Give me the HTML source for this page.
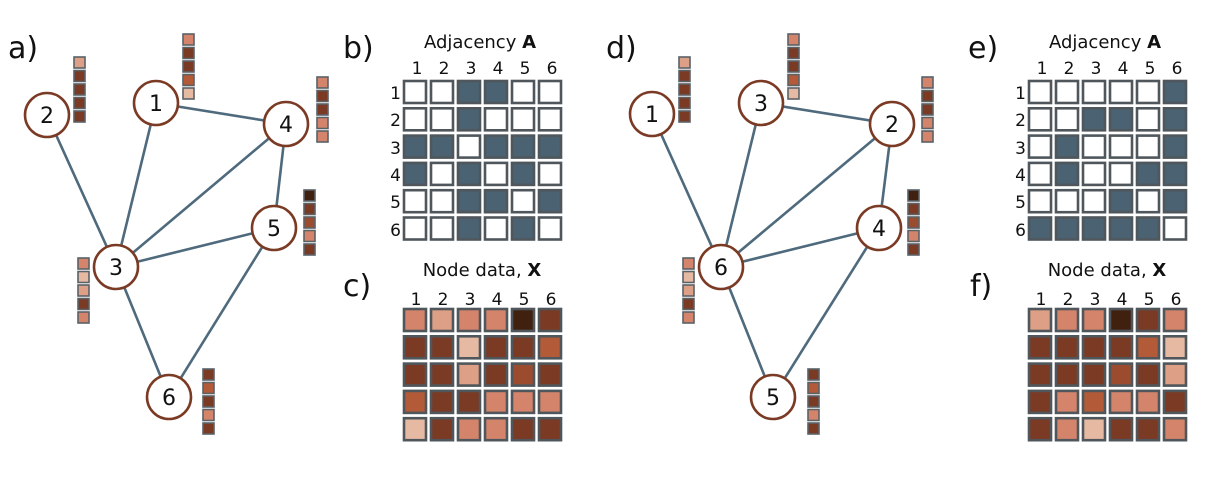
<!DOCTYPE html>
<html><head><meta charset="utf-8"><style>
html,body{margin:0;padding:0;background:#fff;}
svg{display:block;}
text{font-family:"DejaVu Sans","Liberation Sans",sans-serif;fill:#111;}
.e{stroke:#4e6a7c;stroke-width:2.6;}
.n{fill:#fff;stroke:#7a3a24;stroke-width:2.6;}
.nl{font-size:22px;text-anchor:middle;}
.lab{font-size:30px;}
.t{font-size:18px;text-anchor:middle;}
.cl{font-size:17px;text-anchor:middle;}
.rl{font-size:17px;text-anchor:end;}
.a rect{stroke:#4f575c;stroke-width:2.6;}
.b rect{stroke:#5a6268;stroke-width:1.6;}
.C{fill:#d4846a}.M{fill:#dd9f86}.L{fill:#e6b9a3}.D{fill:#7a3a24}.O{fill:#b35a38}.R{fill:#9b4c2e}.K{fill:#40200f}
.W{fill:#fff}.F{fill:#4a6272}
</style></head><body>
<svg width="1221" height="489" viewBox="0 0 1221 489" xmlns="http://www.w3.org/2000/svg">
<!-- Panel a -->
<text class="lab" x="8" y="58">a)</text>
<g>
<line class="e" x1="47" y1="115" x2="116" y2="267"/>
<line class="e" x1="156" y1="103" x2="116" y2="267"/>
<line class="e" x1="156" y1="103" x2="286" y2="124"/>
<line class="e" x1="286" y1="124" x2="116" y2="267"/>
<line class="e" x1="286" y1="124" x2="274" y2="228"/>
<line class="e" x1="274" y1="228" x2="116" y2="267"/>
<line class="e" x1="274" y1="228" x2="169" y2="397"/>
<line class="e" x1="116" y1="267" x2="169" y2="397"/>
<circle class="n" cx="47" cy="115" r="22"/><text class="nl" x="47" y="123">2</text>
<circle class="n" cx="156" cy="103" r="22"/><text class="nl" x="156" y="111">1</text>
<circle class="n" cx="286" cy="124" r="22"/><text class="nl" x="286" y="132">4</text>
<circle class="n" cx="274" cy="228" r="22"/><text class="nl" x="274" y="236">5</text>
<circle class="n" cx="116" cy="267" r="22"/><text class="nl" x="116" y="275">3</text>
<circle class="n" cx="169" cy="397" r="22"/><text class="nl" x="169" y="405">6</text>
</g>
<g class="b">
<!-- node2 bars M D D D D -->
<rect class="M" x="74" y="57" width="11" height="11"/><rect class="D" x="74" y="70.5" width="11" height="11"/><rect class="D" x="74" y="84" width="11" height="11"/><rect class="D" x="74" y="97.5" width="11" height="11"/><rect class="D" x="74" y="111" width="11" height="11"/>
<!-- node1 C D D O L -->
<rect class="C" x="183" y="34" width="11" height="11"/><rect class="D" x="183" y="47.5" width="11" height="11"/><rect class="D" x="183" y="61" width="11" height="11"/><rect class="O" x="183" y="74.5" width="11" height="11"/><rect class="L" x="183" y="88" width="11" height="11"/>
<!-- node4 C D D C C -->
<rect class="C" x="317" y="77" width="11" height="11"/><rect class="D" x="317" y="90.5" width="11" height="11"/><rect class="D" x="317" y="104" width="11" height="11"/><rect class="C" x="317" y="117.5" width="11" height="11"/><rect class="C" x="317" y="131" width="11" height="11"/>
<!-- node5 K D R C D -->
<rect class="K" x="304" y="190" width="11" height="11"/><rect class="D" x="304" y="203.5" width="11" height="11"/><rect class="R" x="304" y="217" width="11" height="11"/><rect class="C" x="304" y="230.5" width="11" height="11"/><rect class="D" x="304" y="244" width="11" height="11"/>
<!-- node3 C L M D C -->
<rect class="C" x="78" y="258" width="11" height="11"/><rect class="L" x="78" y="271.5" width="11" height="11"/><rect class="M" x="78" y="285" width="11" height="11"/><rect class="D" x="78" y="298.5" width="11" height="11"/><rect class="C" x="78" y="312" width="11" height="11"/>
<!-- node6 D O D C D -->
<rect class="D" x="203" y="369" width="11" height="11"/><rect class="O" x="203" y="382.5" width="11" height="11"/><rect class="D" x="203" y="396" width="11" height="11"/><rect class="C" x="203" y="409.5" width="11" height="11"/><rect class="D" x="203" y="423" width="11" height="11"/>
</g>

<!-- Panel b -->
<text class="lab" x="343" y="58">b)</text>
<text class="t" x="480" y="48">Adjacency <tspan font-weight="bold">A</tspan></text>
<g>
<text class="cl" x="417" y="74">1</text><text class="cl" x="444" y="74">2</text><text class="cl" x="471" y="74">3</text><text class="cl" x="498" y="74">4</text><text class="cl" x="525" y="74">5</text><text class="cl" x="552" y="74">6</text>
<text class="rl" x="401" y="99">1</text><text class="rl" x="401" y="126">2</text><text class="rl" x="401" y="154">3</text><text class="rl" x="401" y="181">4</text><text class="rl" x="401" y="208">5</text><text class="rl" x="401" y="236">6</text>
</g>
<g class="a">
<rect class="W" x="404" y="81" width="22" height="22"/><rect class="W" x="431" y="81" width="22" height="22"/><rect class="F" x="458" y="81" width="22" height="22"/><rect class="F" x="485" y="81" width="22" height="22"/><rect class="W" x="512" y="81" width="22" height="22"/><rect class="W" x="539" y="81" width="22" height="22"/>
<rect class="W" x="404" y="108.3" width="22" height="22"/><rect class="W" x="431" y="108.3" width="22" height="22"/><rect class="F" x="458" y="108.3" width="22" height="22"/><rect class="W" x="485" y="108.3" width="22" height="22"/><rect class="W" x="512" y="108.3" width="22" height="22"/><rect class="W" x="539" y="108.3" width="22" height="22"/>
<rect class="F" x="404" y="135.6" width="22" height="22"/><rect class="F" x="431" y="135.6" width="22" height="22"/><rect class="W" x="458" y="135.6" width="22" height="22"/><rect class="F" x="485" y="135.6" width="22" height="22"/><rect class="F" x="512" y="135.6" width="22" height="22"/><rect class="F" x="539" y="135.6" width="22" height="22"/>
<rect class="F" x="404" y="162.9" width="22" height="22"/><rect class="W" x="431" y="162.9" width="22" height="22"/><rect class="F" x="458" y="162.9" width="22" height="22"/><rect class="W" x="485" y="162.9" width="22" height="22"/><rect class="F" x="512" y="162.9" width="22" height="22"/><rect class="W" x="539" y="162.9" width="22" height="22"/>
<rect class="W" x="404" y="190.2" width="22" height="22"/><rect class="W" x="431" y="190.2" width="22" height="22"/><rect class="F" x="458" y="190.2" width="22" height="22"/><rect class="F" x="485" y="190.2" width="22" height="22"/><rect class="W" x="512" y="190.2" width="22" height="22"/><rect class="F" x="539" y="190.2" width="22" height="22"/>
<rect class="W" x="404" y="217.5" width="22" height="22"/><rect class="W" x="431" y="217.5" width="22" height="22"/><rect class="F" x="458" y="217.5" width="22" height="22"/><rect class="W" x="485" y="217.5" width="22" height="22"/><rect class="F" x="512" y="217.5" width="22" height="22"/><rect class="W" x="539" y="217.5" width="22" height="22"/>
</g>

<!-- Panel c -->
<text class="lab" x="343" y="296">c)</text>
<text class="t" x="482" y="276">Node data, <tspan font-weight="bold">X</tspan></text>
<g>
<text class="cl" x="416" y="305">1</text><text class="cl" x="443" y="305">2</text><text class="cl" x="470" y="305">3</text><text class="cl" x="497" y="305">4</text><text class="cl" x="524" y="305">5</text><text class="cl" x="551" y="305">6</text>
</g>
<g class="a">
<rect class="C" x="404" y="309" width="22" height="22"/><rect class="M" x="431" y="309" width="22" height="22"/><rect class="C" x="458" y="309" width="22" height="22"/><rect class="C" x="485" y="309" width="22" height="22"/><rect class="K" x="512" y="309" width="22" height="22"/><rect class="D" x="539" y="309" width="22" height="22"/>
<rect class="D" x="404" y="336.3" width="22" height="22"/><rect class="D" x="431" y="336.3" width="22" height="22"/><rect class="L" x="458" y="336.3" width="22" height="22"/><rect class="D" x="485" y="336.3" width="22" height="22"/><rect class="D" x="512" y="336.3" width="22" height="22"/><rect class="O" x="539" y="336.3" width="22" height="22"/>
<rect class="D" x="404" y="363.6" width="22" height="22"/><rect class="D" x="431" y="363.6" width="22" height="22"/><rect class="M" x="458" y="363.6" width="22" height="22"/><rect class="D" x="485" y="363.6" width="22" height="22"/><rect class="R" x="512" y="363.6" width="22" height="22"/><rect class="D" x="539" y="363.6" width="22" height="22"/>
<rect class="O" x="404" y="390.9" width="22" height="22"/><rect class="D" x="431" y="390.9" width="22" height="22"/><rect class="D" x="458" y="390.9" width="22" height="22"/><rect class="C" x="485" y="390.9" width="22" height="22"/><rect class="C" x="512" y="390.9" width="22" height="22"/><rect class="C" x="539" y="390.9" width="22" height="22"/>
<rect class="L" x="404" y="418.2" width="22" height="22"/><rect class="D" x="431" y="418.2" width="22" height="22"/><rect class="C" x="458" y="418.2" width="22" height="22"/><rect class="C" x="485" y="418.2" width="22" height="22"/><rect class="D" x="512" y="418.2" width="22" height="22"/><rect class="D" x="539" y="418.2" width="22" height="22"/>
</g>

<!-- Panel d -->
<text class="lab" x="606" y="58">d)</text>
<g>
<line class="e" x1="652" y1="114" x2="721" y2="267"/>
<line class="e" x1="761" y1="103" x2="721" y2="267"/>
<line class="e" x1="761" y1="103" x2="892" y2="124"/>
<line class="e" x1="892" y1="124" x2="721" y2="267"/>
<line class="e" x1="892" y1="124" x2="879" y2="228"/>
<line class="e" x1="879" y1="228" x2="721" y2="267"/>
<line class="e" x1="879" y1="228" x2="773" y2="397"/>
<line class="e" x1="721" y1="267" x2="773" y2="397"/>
<circle class="n" cx="652" cy="114" r="22"/><text class="nl" x="652" y="122">1</text>
<circle class="n" cx="761" cy="103" r="22"/><text class="nl" x="761" y="111">3</text>
<circle class="n" cx="892" cy="124" r="22"/><text class="nl" x="892" y="132">2</text>
<circle class="n" cx="879" cy="228" r="22"/><text class="nl" x="879" y="236">4</text>
<circle class="n" cx="721" cy="267" r="22"/><text class="nl" x="721" y="275">6</text>
<circle class="n" cx="773" cy="397" r="22"/><text class="nl" x="773" y="405">5</text>
</g>
<g class="b">
<!-- d1 M D D D D -->
<rect class="M" x="679" y="57" width="11" height="11"/><rect class="D" x="679" y="70.5" width="11" height="11"/><rect class="D" x="679" y="84" width="11" height="11"/><rect class="D" x="679" y="97.5" width="11" height="11"/><rect class="D" x="679" y="111" width="11" height="11"/>
<!-- d3 C D D O L -->
<rect class="C" x="788" y="34" width="11" height="11"/><rect class="D" x="788" y="47.5" width="11" height="11"/><rect class="D" x="788" y="61" width="11" height="11"/><rect class="O" x="788" y="74.5" width="11" height="11"/><rect class="L" x="788" y="88" width="11" height="11"/>
<!-- d2 C D D C C -->
<rect class="C" x="922" y="77" width="11" height="11"/><rect class="D" x="922" y="90.5" width="11" height="11"/><rect class="D" x="922" y="104" width="11" height="11"/><rect class="C" x="922" y="117.5" width="11" height="11"/><rect class="C" x="922" y="131" width="11" height="11"/>
<!-- d4 K D R C D -->
<rect class="K" x="908" y="190" width="11" height="11"/><rect class="D" x="908" y="203.5" width="11" height="11"/><rect class="R" x="908" y="217" width="11" height="11"/><rect class="C" x="908" y="230.5" width="11" height="11"/><rect class="D" x="908" y="244" width="11" height="11"/>
<!-- d6 C L M D C -->
<rect class="C" x="683" y="258" width="11" height="11"/><rect class="L" x="683" y="271.5" width="11" height="11"/><rect class="M" x="683" y="285" width="11" height="11"/><rect class="D" x="683" y="298.5" width="11" height="11"/><rect class="C" x="683" y="312" width="11" height="11"/>
<!-- d5 D O D C D -->
<rect class="D" x="808" y="369" width="11" height="11"/><rect class="O" x="808" y="382.5" width="11" height="11"/><rect class="D" x="808" y="396" width="11" height="11"/><rect class="C" x="808" y="409.5" width="11" height="11"/><rect class="D" x="808" y="423" width="11" height="11"/>
</g>

<!-- Panel e -->
<text class="lab" x="968" y="58">e)</text>
<text class="t" x="1105" y="48">Adjacency <tspan font-weight="bold">A</tspan></text>
<g>
<text class="cl" x="1042" y="74">1</text><text class="cl" x="1069" y="74">2</text><text class="cl" x="1096" y="74">3</text><text class="cl" x="1123" y="74">4</text><text class="cl" x="1150" y="74">5</text><text class="cl" x="1177" y="74">6</text>
<text class="rl" x="1026" y="99">1</text><text class="rl" x="1026" y="126">2</text><text class="rl" x="1026" y="154">3</text><text class="rl" x="1026" y="181">4</text><text class="rl" x="1026" y="208">5</text><text class="rl" x="1026" y="236">6</text>
</g>
<g class="a">
<rect class="W" x="1029" y="81" width="22" height="22"/><rect class="W" x="1056" y="81" width="22" height="22"/><rect class="W" x="1083" y="81" width="22" height="22"/><rect class="W" x="1110" y="81" width="22" height="22"/><rect class="W" x="1137" y="81" width="22" height="22"/><rect class="F" x="1164" y="81" width="22" height="22"/>
<rect class="W" x="1029" y="108.3" width="22" height="22"/><rect class="W" x="1056" y="108.3" width="22" height="22"/><rect class="F" x="1083" y="108.3" width="22" height="22"/><rect class="F" x="1110" y="108.3" width="22" height="22"/><rect class="W" x="1137" y="108.3" width="22" height="22"/><rect class="F" x="1164" y="108.3" width="22" height="22"/>
<rect class="W" x="1029" y="135.6" width="22" height="22"/><rect class="F" x="1056" y="135.6" width="22" height="22"/><rect class="W" x="1083" y="135.6" width="22" height="22"/><rect class="W" x="1110" y="135.6" width="22" height="22"/><rect class="W" x="1137" y="135.6" width="22" height="22"/><rect class="F" x="1164" y="135.6" width="22" height="22"/>
<rect class="W" x="1029" y="162.9" width="22" height="22"/><rect class="F" x="1056" y="162.9" width="22" height="22"/><rect class="W" x="1083" y="162.9" width="22" height="22"/><rect class="W" x="1110" y="162.9" width="22" height="22"/><rect class="F" x="1137" y="162.9" width="22" height="22"/><rect class="F" x="1164" y="162.9" width="22" height="22"/>
<rect class="W" x="1029" y="190.2" width="22" height="22"/><rect class="W" x="1056" y="190.2" width="22" height="22"/><rect class="W" x="1083" y="190.2" width="22" height="22"/><rect class="F" x="1110" y="190.2" width="22" height="22"/><rect class="W" x="1137" y="190.2" width="22" height="22"/><rect class="F" x="1164" y="190.2" width="22" height="22"/>
<rect class="F" x="1029" y="217.5" width="22" height="22"/><rect class="F" x="1056" y="217.5" width="22" height="22"/><rect class="F" x="1083" y="217.5" width="22" height="22"/><rect class="F" x="1110" y="217.5" width="22" height="22"/><rect class="F" x="1137" y="217.5" width="22" height="22"/><rect class="W" x="1164" y="217.5" width="22" height="22"/>
</g>

<!-- Panel f -->
<text class="lab" x="970" y="296">f)</text>
<text class="t" x="1107" y="276">Node data, <tspan font-weight="bold">X</tspan></text>
<g>
<text class="cl" x="1041" y="305">1</text><text class="cl" x="1068" y="305">2</text><text class="cl" x="1095" y="305">3</text><text class="cl" x="1122" y="305">4</text><text class="cl" x="1149" y="305">5</text><text class="cl" x="1176" y="305">6</text>
</g>
<g class="a">
<rect class="M" x="1029" y="309" width="22" height="22"/><rect class="C" x="1056" y="309" width="22" height="22"/><rect class="C" x="1083" y="309" width="22" height="22"/><rect class="K" x="1110" y="309" width="22" height="22"/><rect class="D" x="1137" y="309" width="22" height="22"/><rect class="C" x="1164" y="309" width="22" height="22"/>
<rect class="D" x="1029" y="336.3" width="22" height="22"/><rect class="D" x="1056" y="336.3" width="22" height="22"/><rect class="D" x="1083" y="336.3" width="22" height="22"/><rect class="D" x="1110" y="336.3" width="22" height="22"/><rect class="O" x="1137" y="336.3" width="22" height="22"/><rect class="L" x="1164" y="336.3" width="22" height="22"/>
<rect class="D" x="1029" y="363.6" width="22" height="22"/><rect class="D" x="1056" y="363.6" width="22" height="22"/><rect class="D" x="1083" y="363.6" width="22" height="22"/><rect class="R" x="1110" y="363.6" width="22" height="22"/><rect class="D" x="1137" y="363.6" width="22" height="22"/><rect class="M" x="1164" y="363.6" width="22" height="22"/>
<rect class="D" x="1029" y="390.9" width="22" height="22"/><rect class="C" x="1056" y="390.9" width="22" height="22"/><rect class="O" x="1083" y="390.9" width="22" height="22"/><rect class="C" x="1110" y="390.9" width="22" height="22"/><rect class="C" x="1137" y="390.9" width="22" height="22"/><rect class="D" x="1164" y="390.9" width="22" height="22"/>
<rect class="D" x="1029" y="418.2" width="22" height="22"/><rect class="C" x="1056" y="418.2" width="22" height="22"/><rect class="L" x="1083" y="418.2" width="22" height="22"/><rect class="D" x="1110" y="418.2" width="22" height="22"/><rect class="D" x="1137" y="418.2" width="22" height="22"/><rect class="C" x="1164" y="418.2" width="22" height="22"/>
</g>
</svg>
</body></html>
